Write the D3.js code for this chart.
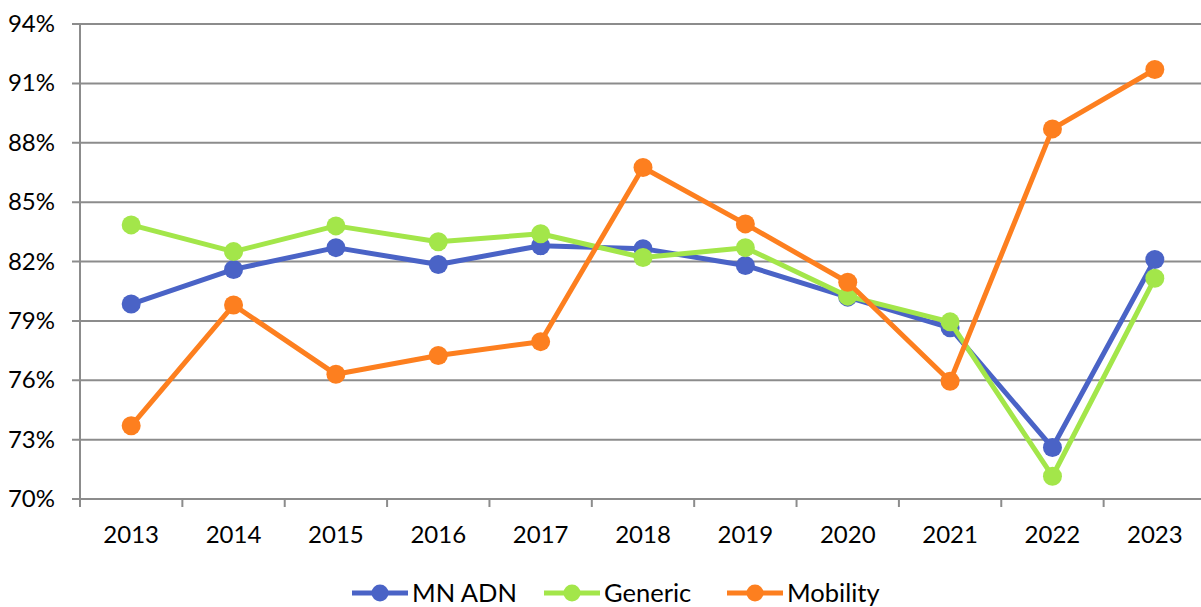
<!DOCTYPE html>
<html>
<head>
<meta charset="utf-8">
<script src="https://cdn.jsdelivr.net/npm/d3@7"></script>
<style>
  body { margin: 0; background: #fff; }
  svg text { font-family: Lato, "Open Sans", sans-serif; fill: #000; }
</style>
</head>
<body>
<svg id="chart"></svg>
<script>
const years = ['2013', '2014', '2015', '2016', '2017', '2018', '2019', '2020', '2021', '2022', '2023'];
const mnAdn = [79.85, 81.6, 82.7, 81.85, 82.8, 82.65, 81.8, 80.2, 78.65, 72.6, 82.1];
const generic = [83.85, 82.5, 83.8, 83.0, 83.4, 82.2, 82.7, 80.25, 78.95, 71.15, 81.15];
const mobility = [73.7, 79.8, 76.3, 77.25, 77.95, 86.75, 83.9, 80.95, 75.95, 88.7, 91.7];
const yTicks = [70, 73, 76, 79, 82, 85, 88, 91, 94];

const series = [
  { name: 'MN ADN', values: mnAdn, color: '#4a63c6' },
  { name: 'Generic', values: generic, color: '#a3e64a' },
  { name: 'Mobility', values: mobility, color: '#fd7f1f' }
];

const W = 1201, H = 607;
const mLeft = 80, mRight = 1206, mTop = 24, mBottom = 499;
const svg = d3.select('#chart').attr('width', W).attr('height', H);

const x = d3.scaleBand().domain(years).range([mLeft, mRight]);
const y = d3.scaleLinear().domain([70, 94]).range([mBottom, mTop]);

// gridlines
svg.append('g')
  .selectAll('line')
  .data(yTicks)
  .join('line')
  .attr('x1', mLeft - 8).attr('x2', W)
  .attr('y1', d => y(d)).attr('y2', d => y(d))
  .attr('stroke', '#8c8c8c').attr('stroke-width', 2);

// y axis labels
svg.append('g')
  .selectAll('text')
  .data(yTicks)
  .join('text')
  .attr('x', 55).attr('y', d => y(d) + 8)
  .attr('text-anchor', 'end')
  .attr('font-size', 24)
  .text(d => d + '%');

// y axis line
svg.append('line')
  .attr('x1', mLeft).attr('x2', mLeft)
  .attr('y1', mTop).attr('y2', mBottom + 8)
  .attr('stroke', '#8c8c8c').attr('stroke-width', 2);

// x axis
const xAxis = svg.append('g')
  .attr('transform', `translate(0, ${mBottom})`)
  .call(d3.axisBottom(x).tickSize(0).tickPadding(0));
xAxis.select('.domain').remove();
xAxis.selectAll('text')
  .attr('font-size', 24)
  .attr('font-family', 'Lato, "Open Sans", sans-serif')
  .attr('fill', '#000')
  .attr('y', 44)
  .attr('dy', 0);
svg.append('g')
  .selectAll('line')
  .data(years)
  .join('line')
  .attr('x1', d => x(d)).attr('x2', d => x(d))
  .attr('y1', mBottom).attr('y2', mBottom + 8)
  .attr('stroke', '#8c8c8c').attr('stroke-width', 2);

const cx = d => x(d) + x.bandwidth() / 2;
const line = d3.line()
  .x((d, i) => cx(years[i]))
  .y(d => y(d));

series.forEach(s => {
  svg.append('path')
    .datum(s.values)
    .attr('fill', 'none')
    .attr('stroke', s.color)
    .attr('stroke-width', 5)
    .attr('stroke-linejoin', 'round')
    .attr('d', line);
  svg.append('g')
    .selectAll('circle')
    .data(s.values)
    .join('circle')
    .attr('cx', (d, i) => cx(years[i]))
    .attr('cy', d => y(d))
    .attr('r', 9.5)
    .attr('fill', s.color);
});

// legend
const legendX = [352, 544, 727];
const leg = svg.append('g');
series.forEach((s, i) => {
  const g = leg.append('g').attr('transform', `translate(${legendX[i]}, 593)`);
  g.append('line').attr('x1', 0).attr('x2', 56).attr('y1', 0).attr('y2', 0)
    .attr('stroke', s.color).attr('stroke-width', 5);
  g.append('circle').attr('cx', 28).attr('cy', 0).attr('r', 8.5).attr('fill', s.color);
  g.append('text').attr('x', 60).attr('y', 9).attr('font-size', 25.5).text(s.name);
});
</script>
</body>
</html>
